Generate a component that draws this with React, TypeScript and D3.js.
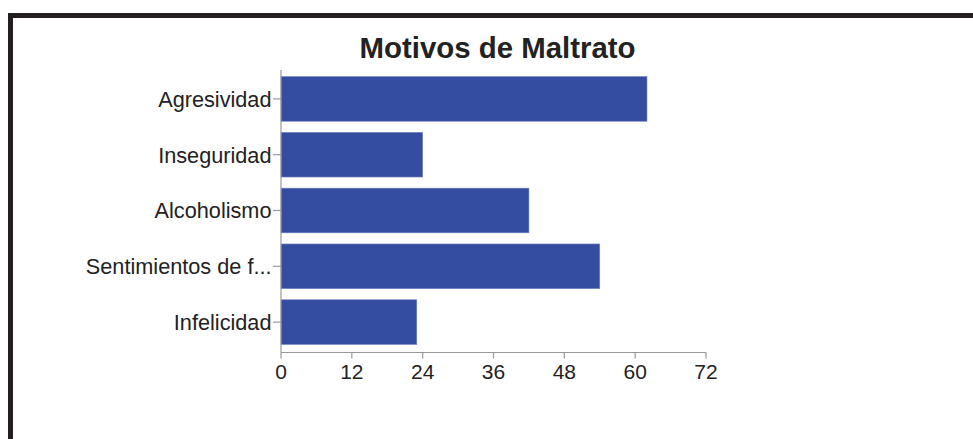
import React from "react";
import * as d3 from "d3";

const title = "Motivos de Maltrato";
const categories = ["Agresividad", "Inseguridad", "Alcoholismo", "Sentimientos de f...", "Infelicidad"];
const values = [62, 24, 42, 54, 23];
const xTicks = [0, 12, 24, 36, 48, 60, 72];

export default function App() {
  const W = 973;
  const H = 439;
  const x = d3.scaleLinear().domain([0, 72]).range([281, 706]);
  const y = d3.scaleBand<string>().domain(categories).range([71, 350]).paddingInner(0.2).paddingOuter(0.1);
  const axisY = 352.5;
  const font = "'Liberation Sans', Arial, Helvetica, sans-serif";
  return (
    <svg width={W} height={H} style={{ position: "absolute", left: 0, top: 0 }} fontFamily={font}>
      <rect x={0} y={0} width={W} height={H} fill="#fff" />
      {/* frame */}
      <rect x={8} y={13} width={W - 8} height={5} fill="#231f20" />
      <rect x={8} y={13} width={5} height={H - 13} fill="#231f20" />
      <text x={497.5} y={58} textAnchor="middle" fontSize={29.4} fontWeight="bold" fill="#222">
        {title}
      </text>
      {categories.map((c, i) => (
        <rect key={c} x={x(0)} y={y(c)!} width={x(values[i]) - x(0)} height={y.bandwidth()} fill="#354da0" stroke="#6f80c2" strokeWidth={0.6} />
      ))}
      {/* y axis */}
      <line x1={281} x2={281} y1={70} y2={axisY} stroke="#999" strokeWidth={1.2} />
      {categories.map((c) => {
        const cy = y(c)! + y.bandwidth() / 2;
        return (
          <g key={c}>
            <line x1={273} x2={281} y1={cy} y2={cy} stroke="#999" strokeWidth={1.2} />
            <text x={271.5} y={cy + 7.8} textAnchor="end" fontSize={21.7} fill="#222">
              {c}
            </text>
          </g>
        );
      })}
      {/* x axis */}
      <line x1={x(0)} x2={x(72)} y1={axisY} y2={axisY} stroke="#999" strokeWidth={1.2} />
      {xTicks.map((t) => (
        <g key={t}>
          <line x1={x(t)} x2={x(t)} y1={axisY} y2={axisY + 6} stroke="#999" strokeWidth={1.2} />
          <text x={x(t)} y={379} textAnchor="middle" fontSize={21} fill="#222">
            {t}
          </text>
        </g>
      ))}
    </svg>
  );
}
